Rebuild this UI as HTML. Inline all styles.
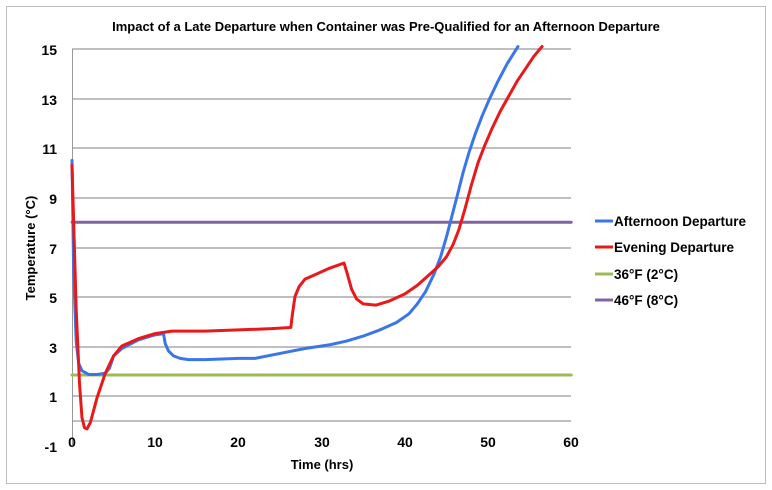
<!DOCTYPE html>
<html><head><meta charset="utf-8"><style>
html,body{margin:0;padding:0;background:#fff;}
svg{display:block;font-family:"Liberation Sans",sans-serif;}
</style></head><body>
<svg width="772" height="490" viewBox="0 0 772 490" xmlns="http://www.w3.org/2000/svg">
<rect x="0" y="0" width="772" height="490" fill="#fff"/>
<rect x="6.5" y="6.5" width="759" height="477" fill="none" stroke="#bdbdbd" stroke-width="1"/>
<text x="386" y="31" text-anchor="middle" font-size="13" font-weight="bold" fill="#000">Impact of a Late Departure when Container was Pre-Qualified for an Afternoon Departure</text>
<g stroke="#bfbfbf" stroke-width="2">
<line x1="72" y1="49" x2="571" y2="49"/>
<line x1="72" y1="99" x2="571" y2="99"/>
<line x1="72" y1="148" x2="571" y2="148"/>
<line x1="72" y1="198" x2="571" y2="198"/>
<line x1="72" y1="248" x2="571" y2="248"/>
<line x1="72" y1="297" x2="571" y2="297"/>
<line x1="72" y1="347" x2="571" y2="347"/>
<line x1="72" y1="396" x2="571" y2="396"/>
<line x1="72" y1="421" x2="571" y2="421"/>
</g>
<line x1="72.5" y1="49" x2="72.5" y2="445" stroke="#999" stroke-width="1"/>
<g font-size="14" font-weight="bold" fill="#000" text-anchor="end">
<text x="57" y="55">15</text><text x="57" y="105">13</text><text x="57" y="154">11</text>
<text x="57" y="204">9</text><text x="57" y="254">7</text><text x="57" y="303">5</text>
<text x="57" y="353">3</text><text x="57" y="402">1</text><text x="57" y="452">-1</text>
</g>
<g font-size="14" font-weight="bold" fill="#000" text-anchor="middle">
<text x="72" y="447">0</text><text x="155" y="447">10</text><text x="238" y="447">20</text>
<text x="322" y="447">30</text><text x="405" y="447">40</text><text x="488" y="447">50</text><text x="571" y="447">60</text>
<text x="322" y="469" font-size="13">Time (hrs)</text>
<text transform="translate(35,248) rotate(-90)" font-size="13">Temperature (°C)</text>
</g>
<g transform="matrix(8.32 0 0 -24.75 72 420.25)" fill="none" stroke-linejoin="round" stroke-linecap="round">
<line x1="0" y1="8" x2="60" y2="8" stroke="#8064a2" stroke-width="3" vector-effect="non-scaling-stroke"/>
<line x1="0" y1="1.83" x2="60" y2="1.83" stroke="#9bbb59" stroke-width="3" vector-effect="non-scaling-stroke"/>
<polyline stroke="#3a76e8" stroke-width="3" vector-effect="non-scaling-stroke" points="0,10.5 0.2,6 0.5,3.2 0.8,2.3 1.2,2 2,1.85 3,1.85 4,1.9 4.5,2.1 5,2.6 6,2.9 8,3.25 10,3.45 11,3.5 11.2,3.1 11.6,2.8 12.2,2.6 13,2.5 14,2.45 16,2.45 20,2.5 22,2.5 25,2.7 28,2.9 31,3.05 33,3.2 35,3.4 37,3.65 39,3.95 40.5,4.3 41.5,4.7 42.5,5.2 43.5,5.9 44.3,6.6 45,7.4 45.7,8.3 46.4,9.2 47,10 47.7,10.8 48.5,11.6 49.3,12.3 50.2,13 51.2,13.7 52.3,14.4 53.6,15.1"/>
<polyline stroke="#e8191a" stroke-width="3" vector-effect="non-scaling-stroke" points="0,10.3 0.2,8 0.5,4.5 0.9,1.5 1.2,0.1 1.5,-0.3 1.8,-0.35 2.2,-0.1 3,0.9 4,1.9 5,2.6 6,3 8,3.3 10,3.5 12,3.6 16,3.6 20,3.65 24,3.7 26.3,3.75 26.5,4.3 26.8,5 27.3,5.4 28,5.7 29,5.85 30,6 31,6.15 32.7,6.35 33.1,5.9 33.6,5.3 34.2,4.9 35,4.7 36.5,4.65 38,4.8 40,5.1 41.5,5.45 43,5.9 44,6.2 45,6.6 45.8,7.1 46.5,7.7 47.2,8.5 48,9.5 48.8,10.4 49.6,11.1 50.5,11.8 51.5,12.5 52.5,13.1 53.5,13.7 54.5,14.2 55.5,14.7 56.5,15.1"/>
</g>
<g stroke-width="3">
<line x1="595" y1="221" x2="613" y2="221" stroke="#3a76e8"/>
<line x1="595" y1="247" x2="613" y2="247" stroke="#e8191a"/>
<line x1="595" y1="274" x2="613" y2="274" stroke="#9bbb59"/>
<line x1="595" y1="300" x2="613" y2="300" stroke="#8064a2"/>
</g>
<g font-size="13.5" font-weight="bold" fill="#000">
<text x="614" y="226">Afternoon Departure</text>
<text x="614" y="252">Evening Departure</text>
<text x="614" y="279">36°F (2°C)</text>
<text x="614" y="305">46°F (8°C)</text>
</g>
</svg>
</body></html>
